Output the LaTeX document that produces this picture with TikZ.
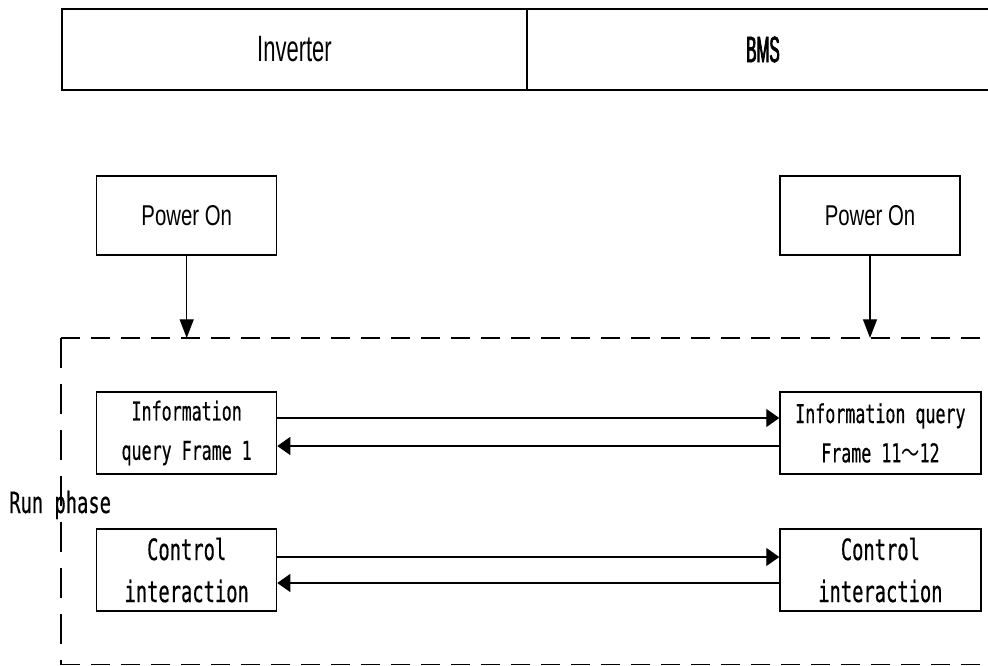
\documentclass[tikz,border=0pt]{standalone}
\usepackage{fontspec}
\usetikzlibrary{arrows.meta}
\newfontfamily\hdrfont[FakeStretch=0.6]{Liberation Sans}
\newfontfamily\bmsfont[FakeStretch=0.42,FakeBold=2]{Liberation Sans}
\newfontfamily\pofont[FakeStretch=0.71]{Liberation Sans}
\newfontfamily\monofont[FakeStretch=0.64,FakeBold=0.5]{DejaVu Sans Mono}
\newfontfamily\cjkfont[FakeStretch=0.7]{Noto Sans CJK SC}
\begin{document}
\begin{tikzpicture}[x=0.75pt,y=-0.75pt,
  cell/.style={draw,line width=1.2pt,inner sep=0pt,minimum height=60.75pt},
  box/.style={draw,line width=0.9pt,inner sep=0pt,align=center},
  narrowbox/.style={box,minimum width=135pt},
  widebox/.style={box,minimum width=150.75pt},
  poweron/.style={narrowbox,minimum height=59.25pt,font=\pofont\fontsize{21.5pt}{25pt}\selectfont},
  infotext/.style={minimum height=61.5pt,font=\monofont\fontsize{19.5pt}{29.5pt}\selectfont},
  ctrltext/.style={minimum height=61.5pt,font=\monofont\fontsize{22pt}{31.5pt}\selectfont},
  arr/.style={line width=0.9pt,-{Triangle[length=9.75pt,width=13.5pt]}},
  downarr/.style={line width=0.9pt,-{Triangle[length=14pt,width=10.5pt]}},
  hdash/.style={line width=1pt,dash pattern=on 14.25pt off 8.25pt},
  vdash/.style={line width=1pt,dash pattern=on 22.5pt off 12pt}]
\clip (0,0) rectangle (988,666);
\fill[white] (0,0) rectangle (988,666);

% header table
\node[cell,minimum width=348.75pt,font=\hdrfont\fontsize{27.5pt}{30pt}\selectfont] (hInv) at (294.5,49.5) {Inverter};
\node[cell,minimum width=354pt,font=\bmsfont\fontsize{27.5pt}{30pt}\selectfont] (hBMS) at (763,49.5) {BMS};

% power-on boxes
\node[poweron] (poL) at (186.7,215.5) {Power On};
\node[poweron] (poR) at (870,215.5) {Power On};

% run-phase frame
\coordinate (fTL) at (61,338);
\coordinate (fBL) at (61,664.5);
\coordinate (fTR) at (1010,338);
\coordinate (fBR) at (1010,664.5);
\draw[hdash] (fTL) -- (fTR);
\draw[vdash] (fTL) -- (fBL);
\draw[hdash] (fBL) -- (fBR);

\draw[downarr] (poL.south) -- (poL.south |- fTL);
\draw[downarr] (poR.south) -- (poR.south |- fTL);

% exchange boxes
\node[narrowbox,infotext] (iqL) at (186.7,433) {Information\\query Frame 1};
\node[widebox,infotext] (iqR) at (880.4,433) {Information query\\Frame 11{\cjkfont ～}12};
\node[narrowbox,ctrltext] (ciL) at (186.7,570) {Control\\interaction};
\node[widebox,ctrltext] (ciR) at (880.4,570) {Control\\interaction};

\draw[arr] ([yshift=11.25pt]iqL.east) -- ([yshift=11.25pt]iqR.west);
\draw[arr] ([yshift=-9.75pt]iqR.west) -- ([yshift=-9.75pt]iqL.east);
\draw[arr] ([yshift=9.75pt]ciL.east) -- ([yshift=9.75pt]ciR.west);
\draw[arr] ([yshift=-9.75pt]ciR.west) -- ([yshift=-9.75pt]ciL.east);

\node[anchor=base west,inner sep=0pt,font=\monofont\fontsize{22pt}{24pt}\selectfont] (run) at (9,513) {Run phase};
\end{tikzpicture}
\end{document}
